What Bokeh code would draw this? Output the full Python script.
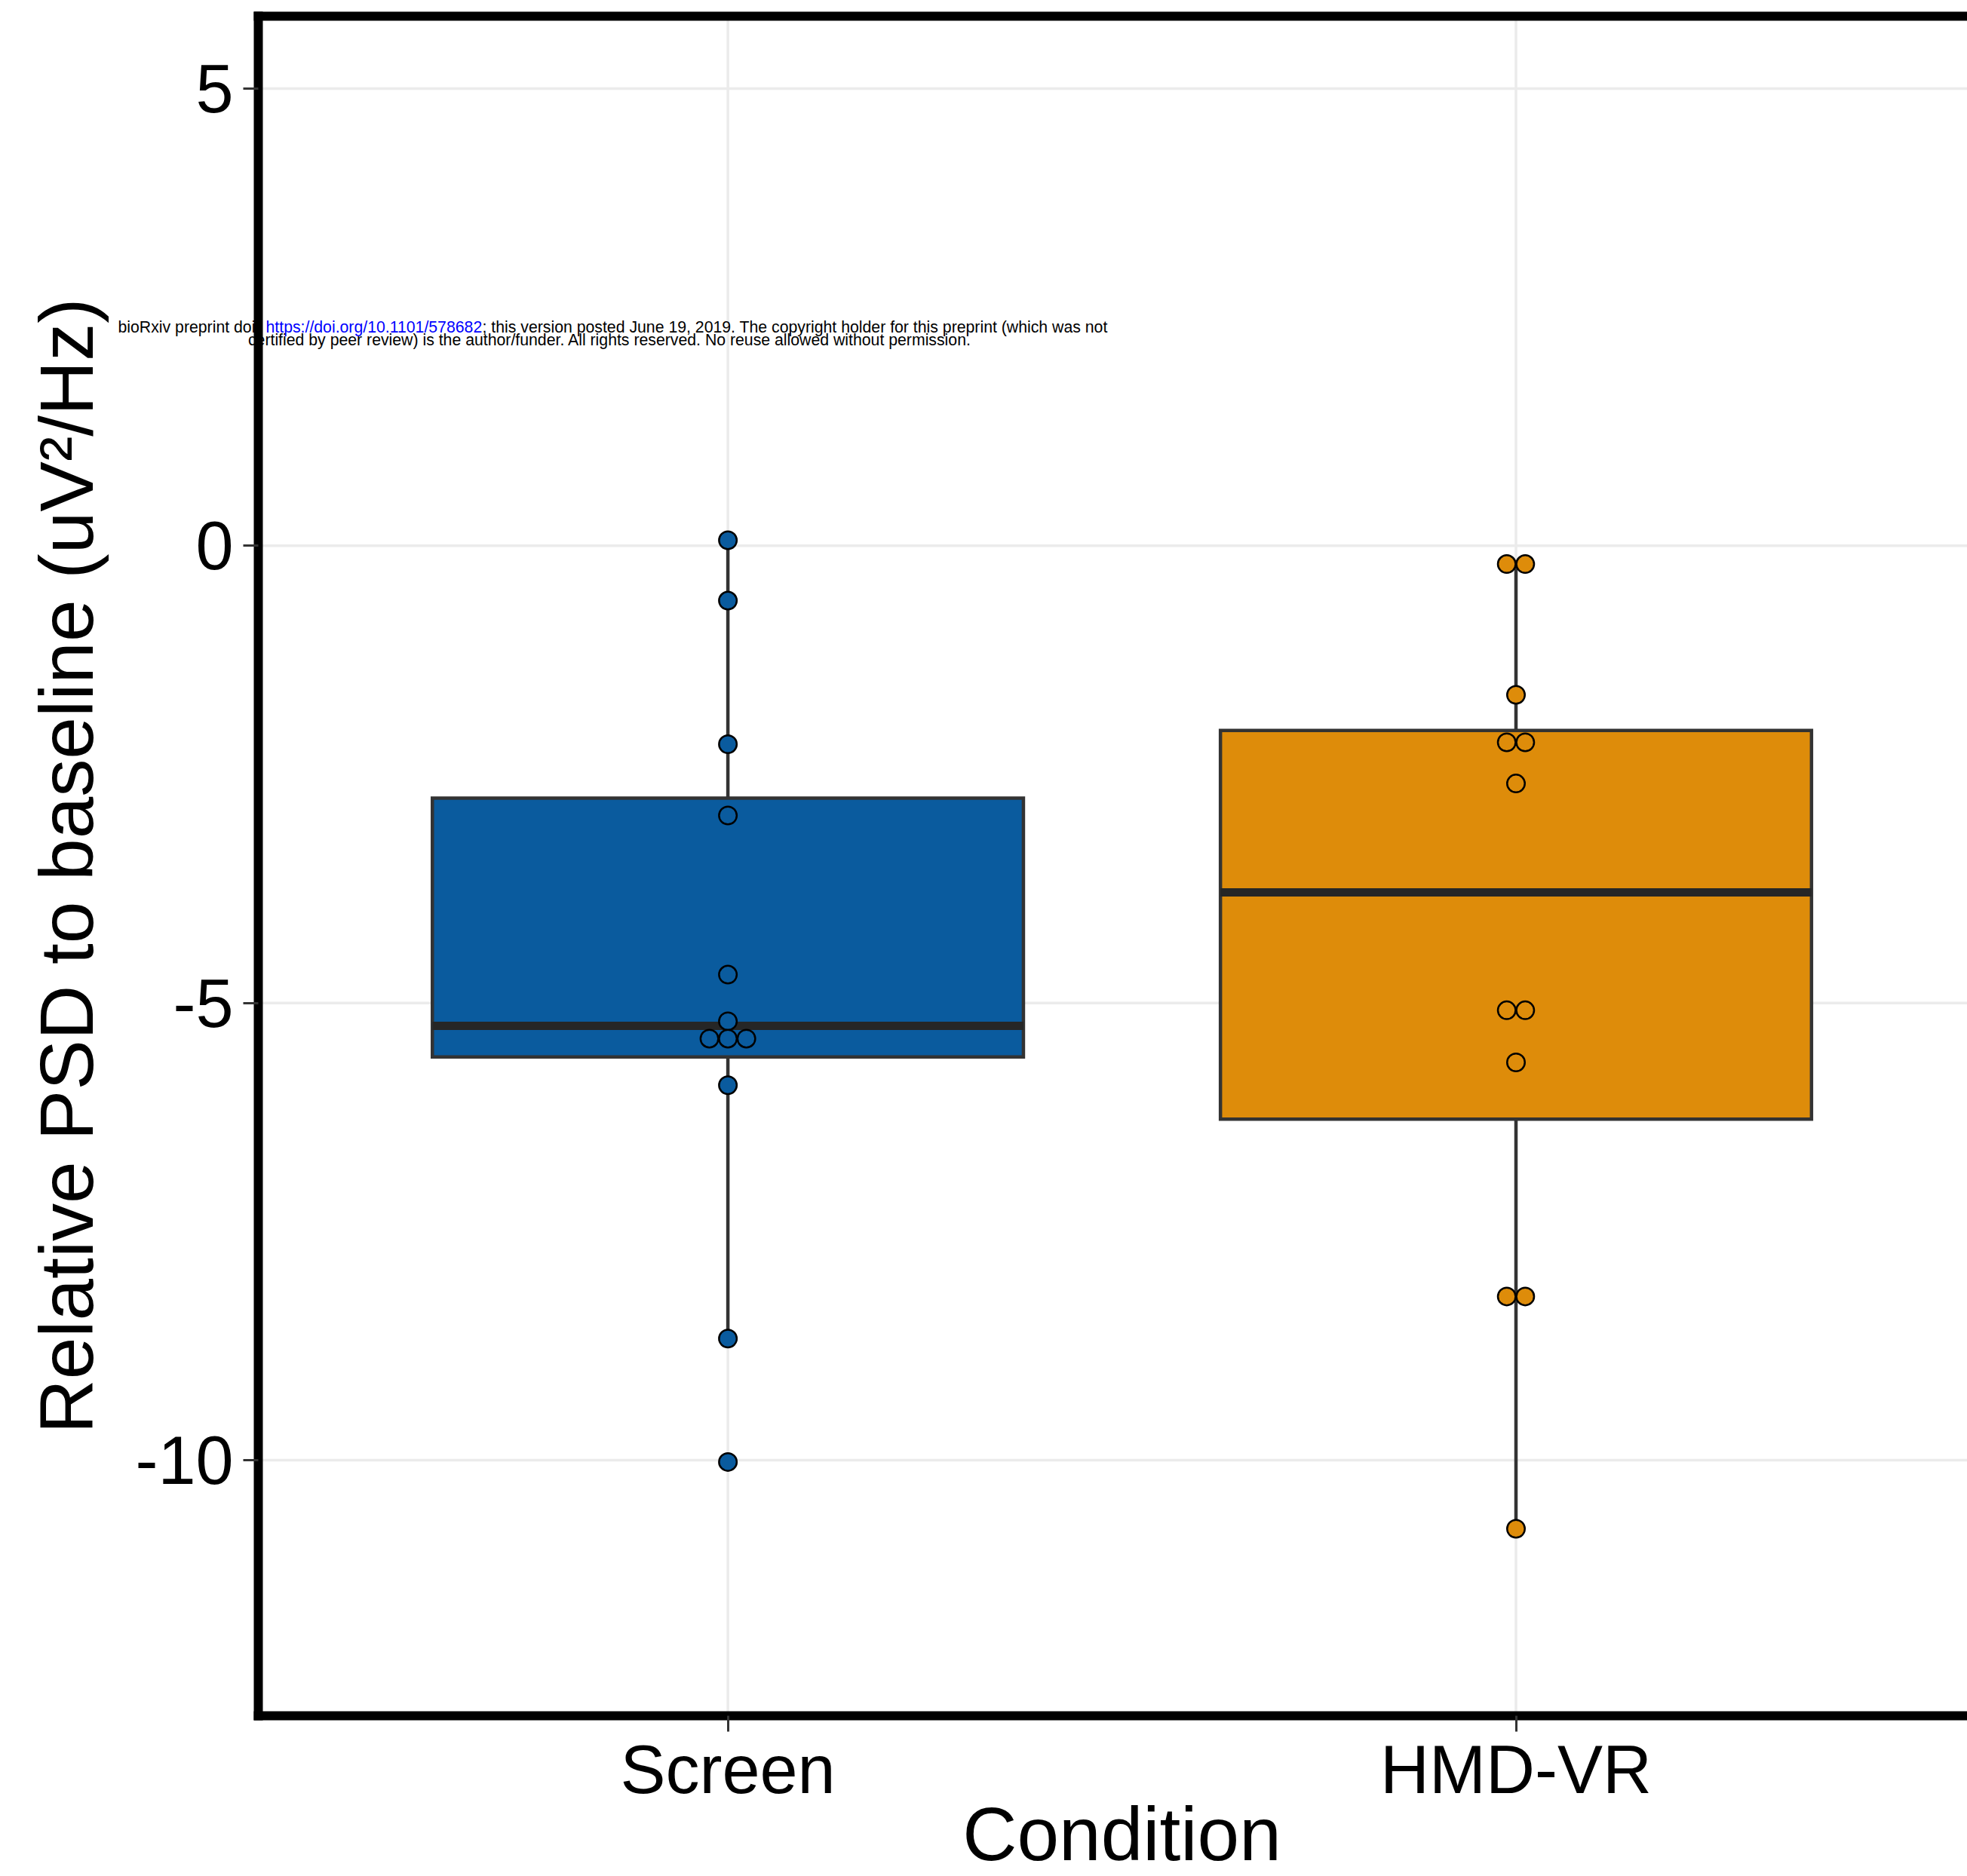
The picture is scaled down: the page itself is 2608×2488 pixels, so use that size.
from collections import OrderedDict
from bokeh.plotting import figure
from bokeh.models import Range1d, FixedTicker, LinearAxis, Label
from bokeh.embed import file_html
from bokeh.resources import INLINE

# ---------------- data ----------------
categories = ["Screen", "HMD-VR"]
screen_values = [0.06, -0.60, -2.17, -2.95, -4.69, -5.20, -5.39, -5.39, -5.39, -5.90, -8.67, -10.02]
hmd_values = [-0.20, -0.20, -1.63, -2.15, -2.15, -2.60, -5.08, -5.08, -5.65, -8.21, -8.21, -10.75]
box_q1 = [-5.59, -6.27]
box_median = [-5.25, -3.79]
box_q3 = [-2.76, -2.02]
whisker_low = [-8.67, -10.75]
whisker_high = [0.06, -0.20]
y_ticks = [-10, -5, 0, 5]
y_tick_labels = ["-10", "-5", "0", "5"]

# ---------------- layout / style ----------------
W, H = 2608, 2488
SX = 1044.9            # px per category unit
SY = 121.27            # px per y unit
CAT1_PX = 964.6        # px position of first category
ZERO_PX = 723.3        # px position of y = 0
XL = 1 - CAT1_PX / SX
XR = XL + W / SX
YT = ZERO_PX / SY
YB = YT - H / SY

# panel (ggplot panel) bounds, in data units
PANEL_X0 = XL + 342 / SX
PANEL_X1 = 2.6
PANEL_Y1 = YT - 21 / SY
PANEL_Y0 = YT - 2275 / SY

FONT = "Liberation Sans"
fills = ["#0A5B9E", "#DE8C0A"]
box_half = 0.375
dot_step = 24.5 / SX


def dx(px):
    return XL + px / SX


def dy(py):
    return YT - py / SY


p = figure(width=W, height=H, output_backend="svg", toolbar_location=None,
           x_range=Range1d(XL, XR), y_range=Range1d(YB, YT), min_border=0)
p.outline_line_color = None
p.background_fill_color = "white"
p.border_fill_color = "white"
p.xgrid.visible = False
p.ygrid.visible = False

# axes drawn at the panel borders
xa = p.xaxis[0]
xa.ticker = FixedTicker(ticks=[1, 2])
xa.major_label_overrides = {1: categories[0], 2: categories[1]}
xa.fixed_location = PANEL_Y0
xa.bounds = (PANEL_X0, PANEL_X1)
ya = p.yaxis[0]
ya.ticker = FixedTicker(ticks=y_ticks)
ya.major_label_overrides = {t: l for t, l in zip(y_ticks, y_tick_labels)}
ya.fixed_location = PANEL_X0
ya.bounds = (PANEL_Y0, PANEL_Y1)
for ax in (xa, ya):
    ax.axis_line_width = 12
    ax.axis_line_color = "black"
    ax.axis_line_cap = "square"
    ax.major_tick_in = 0
    ax.major_tick_line_color = "#333333"
    ax.major_tick_line_width = 3
    ax.minor_tick_in = 0
    ax.minor_tick_out = 0
    ax.major_label_text_font = FONT
    ax.major_label_text_font_size = "90px"
    ax.major_label_text_color = "black"
xa.major_tick_out = 21
xa.major_label_standoff = 0
ya.major_tick_out = 20
ya.major_label_standoff = 13
ya.axis_label = "Relative PSD to baseline (uV²/Hz)"
ya.axis_label_text_font = FONT
ya.axis_label_text_font_size = "100px"
ya.axis_label_text_font_style = "normal"
ya.axis_label_text_color = "black"
ya.axis_label_standoff = 32

top = LinearAxis(ticker=FixedTicker(ticks=[]), fixed_location=PANEL_Y1,
                 bounds=(PANEL_X0, PANEL_X1), axis_line_width=12, axis_line_color="black",
                 axis_line_cap="square", major_tick_out=0, major_tick_in=0,
                 minor_tick_out=0, minor_tick_in=0, major_label_text_font_size="0px",
                 major_label_standoff=0)
p.add_layout(top, "above")

# grid lines (inside the panel only)
grid_color = "#EBEBEB"
p.segment(x0=[PANEL_X0] * len(y_ticks), x1=[PANEL_X1] * len(y_ticks), y0=y_ticks, y1=y_ticks,
          line_color=grid_color, line_width=3.5)
p.segment(x0=[1, 2], x1=[1, 2], y0=[PANEL_Y0] * 2, y1=[PANEL_Y1] * 2,
          line_color=grid_color, line_width=3.5)

# whiskers
pos = [1, 2]
p.segment(x0=pos, y0=box_q3, x1=pos, y1=whisker_high, line_color="#333333", line_width=4.5)
p.segment(x0=pos, y0=box_q1, x1=pos, y1=whisker_low, line_color="#333333", line_width=4.5)

# boxes
p.quad(left=[c - box_half for c in pos], right=[c + box_half for c in pos],
       bottom=box_q1, top=box_q3, fill_color=fills, line_color="#333333", line_width=4.5,
       line_join="miter")
p.segment(x0=[c - box_half for c in pos], x1=[c + box_half for c in pos],
          y0=box_median, y1=box_median, line_color="#262626", line_width=11, line_cap="butt")


# dots (centered stacks of equal values)
def stacked(center, vals):
    groups = OrderedDict()
    for v in vals:
        groups.setdefault(v, 0)
        groups[v] += 1
    xs, ys = [], []
    for v, n in groups.items():
        for i in range(n):
            xs.append(center + (i - (n - 1) / 2) * dot_step)
            ys.append(v)
    return xs, ys


for c, vals, col in zip(pos, [screen_values, hmd_values], fills):
    xs, ys = stacked(c, vals)
    p.scatter(xs, ys, size=23.5, fill_color=col, line_color="black", line_width=2.5)

# x axis title
p.add_layout(Label(x=dx(1487), y=dy(2431), text="Condition", text_font=FONT,
                   text_font_size="100px", text_align="center", text_baseline="middle",
                   text_color="black"))

# preprint header
hs = "21.25px"
p.add_layout(Label(x=dx(156), y=dy(433), text="bioRxiv preprint doi: ", text_font=FONT,
                   text_font_size=hs, text_align="left", text_baseline="middle",
                   text_color="black"))
p.add_layout(Label(x=dx(352), y=dy(433), text="https://doi.org/10.1101/578682", text_font=FONT,
                   text_font_size=hs, text_align="left", text_baseline="middle",
                   text_color="#0000FF"))
p.add_layout(Label(x=dx(639), y=dy(433),
                   text="; this version posted June 19, 2019. The copyright holder for this preprint (which was not",
                   text_font=FONT, text_font_size=hs, text_align="left", text_baseline="middle",
                   text_color="black"))
p.add_layout(Label(x=dx(808), y=dy(450),
                   text="certified by peer review) is the author/funder. All rights reserved. No reuse allowed without permission.",
                   text_font=FONT, text_font_size=hs, text_align="center", text_baseline="middle",
                   text_color="black"))

open("out.html", "w").write(file_html(p, INLINE))
